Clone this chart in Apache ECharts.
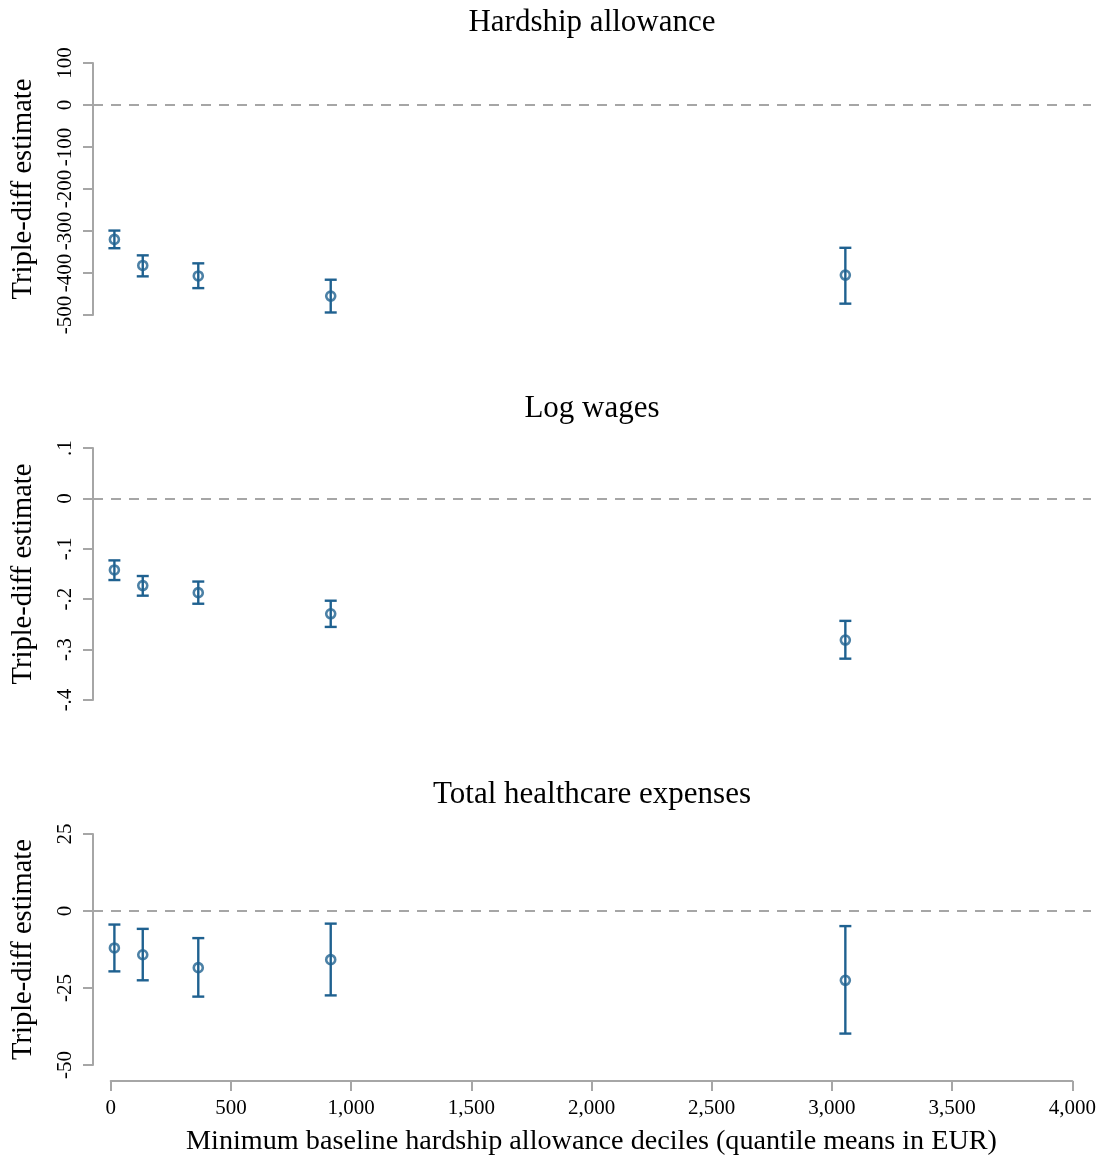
<!DOCTYPE html>
<html>
<head>
<meta charset="utf-8">
<script src="https://cdn.jsdelivr.net/npm/echarts@6/dist/echarts.min.js"></script>
<style>
html,body{margin:0;padding:0;background:#fff;}
#chart{width:1105px;height:1165px;}
</style>
</head>
<body>
<div id="chart"></div>
<script>
// ---- data ----
const panelTitles = ['Hardship allowance', 'Log wages', 'Total healthcare expenses'];
const yAxisTitle = 'Triple-diff estimate';
const xAxisTitle = 'Minimum baseline hardship allowance deciles (quantile means in EUR)';
const xVals = [15, 133, 364, 915, 3056];
const xTicks = [0, 500, 1000, 1500, 2000, 2500, 3000, 3500, 4000];

const hardshipEst = [-320, -382, -407, -455, -405];
const hardshipLo  = [-341, -408, -436, -494, -473];
const hardshipHi  = [-299, -358, -377, -416, -340];
const hardshipTicks = [-500, -400, -300, -200, -100, 0, 100];

const wagesEst = [-0.142, -0.173, -0.187, -0.229, -0.281];
const wagesLo  = [-0.162, -0.193, -0.209, -0.255, -0.318];
const wagesHi  = [-0.123, -0.154, -0.165, -0.203, -0.243];
const wagesTicks = [-0.4, -0.3, -0.2, -0.1, 0, 0.1];

const healthEst = [-12.0, -14.2, -18.4, -15.8, -22.5];
const healthLo  = [-19.6, -22.5, -27.8, -27.4, -39.8];
const healthHi  = [-4.4, -5.8, -8.8, -4.1, -4.9];
const healthTicks = [-50, -25, 0, 25];

// ---- styling ----
const FONT = '"Liberation Serif", "Times New Roman", serif';
const BLUE = '#1f6190';
const GRAY = '#a6a6a6';

const panels = [
  {title: panelTitles[0], est: hardshipEst, lo: hardshipLo, hi: hardshipHi, ticks: hardshipTicks, top: 63, height: 252, titleTop: 2},
  {title: panelTitles[1], est: wagesEst, lo: wagesLo, hi: wagesHi, ticks: wagesTicks, top: 448, height: 252, titleTop: 388},
  {title: panelTitles[2], est: healthEst, lo: healthLo, hi: healthHi, ticks: healthTicks, top: 834, height: 231, titleTop: 774}
];

function fmtY(v) {
  if (Math.abs(v) < 1e-9) return '0';
  let s = String(+v.toFixed(4));
  s = s.replace(/^(-?)0\./, '$1.');
  return s;
}

const grids = [], xAxes = [], yAxes = [], series = [], titles = [];

panels.forEach((p, i) => {
  grids.push({left: 93, right: 14, top: p.top, height: p.height, containLabel: false});
  xAxes.push({
    type: 'value', gridIndex: i, min: -74, max: 4078,
    show: false, splitLine: {show: false}
  });
  yAxes.push({
    type: 'value', gridIndex: i, position: 'left',
    min: p.ticks[0], max: p.ticks[p.ticks.length - 1],
    interval: p.ticks[1] - p.ticks[0],
    name: yAxisTitle, nameLocation: 'middle', nameGap: 55, nameRotate: 90,
    nameTextStyle: {fontFamily: FONT, fontSize: 28.5, color: '#000'},
    axisLine: {show: true, onZero: false, lineStyle: {color: GRAY, width: 2}},
    axisTick: {show: true, length: 10, inside: false, lineStyle: {color: GRAY, width: 2}},
    axisLabel: {rotate: 90, margin: 17, fontFamily: FONT, fontSize: 21, color: '#000', formatter: fmtY, hideOverlap: false},
    splitLine: {show: false}
  });
  titles.push({
    text: p.title, left: 587, top: p.titleTop, textAlign: 'center',
    textStyle: {fontFamily: FONT, fontSize: 31, fontWeight: 'normal', color: '#000'}
  });
  const bars = xVals.map((x, k) => [x, p.lo[k], p.hi[k]]);
  series.push({
    type: 'custom', xAxisIndex: i, yAxisIndex: i, z: 3,
    data: bars,
    encode: {x: 0, y: [1, 2]},
    renderItem: function (params, api) {
      const x = api.value(0);
      const a = api.coord([x, api.value(1)]);
      const b = api.coord([x, api.value(2)]);
      const hw = 6;
      const st = {stroke: BLUE, lineWidth: 2.4};
      return {type: 'group', children: [
        {type: 'line', shape: {x1: a[0], y1: a[1], x2: b[0], y2: b[1]}, style: st},
        {type: 'line', shape: {x1: a[0] - hw, y1: a[1], x2: a[0] + hw, y2: a[1]}, style: st},
        {type: 'line', shape: {x1: b[0] - hw, y1: b[1], x2: b[0] + hw, y2: b[1]}, style: st}
      ]};
    },
    silent: true
  });
  series.push({
    type: 'scatter', xAxisIndex: i, yAxisIndex: i, z: 4,
    data: xVals.map((x, k) => [x, p.est[k]]),
    symbol: 'circle', symbolSize: 9,
    itemStyle: {color: 'rgba(255,255,255,0)', borderColor: BLUE, borderWidth: 2.6},
    silent: true,
    markLine: {
      silent: true, symbol: 'none', z: 1,
      label: {show: false},
      lineStyle: {color: GRAY, type: [10, 8], width: 2},
      data: [{yAxis: 0}]
    }
  });
});

// bottom x-axis display grid
grids.push({left: 110.7, right: 32.7, top: 1080, height: 1});
xAxes.push({
  type: 'value', gridIndex: 3,
  min: xTicks[0], max: xTicks[xTicks.length - 1], interval: xTicks[1] - xTicks[0],
  position: 'bottom',
  name: xAxisTitle, nameLocation: 'middle', nameGap: 47,
  nameTextStyle: {fontFamily: FONT, fontSize: 28.2, color: '#000'},
  axisLine: {show: true, onZero: false, lineStyle: {color: GRAY, width: 2}},
  axisTick: {show: true, length: 10, lineStyle: {color: GRAY, width: 2}},
  axisLabel: {margin: 17, fontFamily: FONT, fontSize: 21, color: '#000',
    formatter: v => Number(v).toLocaleString('en-US')},
  splitLine: {show: false}
});
yAxes.push({type: 'value', gridIndex: 3, show: false, min: 0, max: 1});

const chart = echarts.init(document.getElementById('chart'), null, {renderer: 'canvas'});
chart.setOption({
  animation: false,
  backgroundColor: '#fff',
  title: titles,
  grid: grids,
  xAxis: xAxes,
  yAxis: yAxes,
  series: series
});
</script>
</body>
</html>
